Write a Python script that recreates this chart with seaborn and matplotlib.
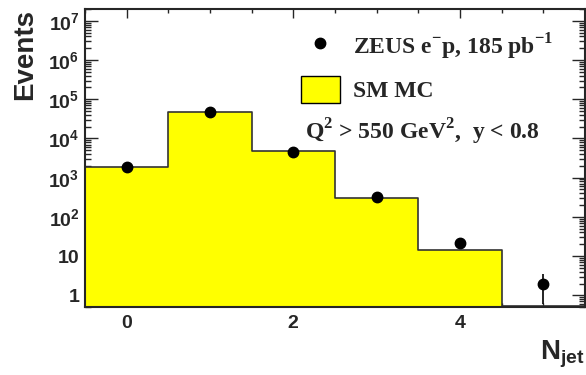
import numpy as np
import matplotlib
matplotlib.use('Agg')
import matplotlib.pyplot as plt
import seaborn as sns
from matplotlib.ticker import MultipleLocator, LogLocator, FuncFormatter, NullFormatter
from matplotlib.lines import Line2D
from matplotlib.patches import Patch

# Données
njet = [0, 1, 2, 3, 4, 5]
bin_edges = [-0.5, 0.5, 1.5, 2.5, 3.5, 4.5, 5.5]
mc_events = [1850, 46000, 4900, 310, 14, 0.54]
data_events = [1900, 47000, 4600, 320, 22, 2]
data_err = [44, 217, 68, 18, 4.7, 1.41]
y_decades = [1, 10, 1e2, 1e3, 1e4, 1e5, 1e6, 1e7]

sns.set_style('ticks')
plt.rcParams['font.family'] = ['Liberation Sans', 'DejaVu Sans']
plt.rcParams['font.weight'] = 'bold'
plt.rcParams['mathtext.fontset'] = 'custom'
plt.rcParams['mathtext.bf'] = 'Liberation Serif:bold'
plt.rcParams['mathtext.rm'] = 'Liberation Serif:bold'
plt.rcParams['mathtext.sf'] = 'Liberation Sans:bold'

fig = plt.figure(figsize=(5.86, 3.75), dpi=100)
ax = fig.add_axes([0.145, 0.181, 0.853, 0.795])

# Histogramme MC
sns.histplot(x=njet, weights=mc_events, bins=bin_edges, element='step', fill=True,
             color='#ffff00', edgecolor='#333333', linewidth=1.2, alpha=1, ax=ax)

# Points de données
ax.errorbar(njet, data_events, yerr=data_err, fmt='o', color='black', ms=7.5,
            elinewidth=1.2, capsize=0, zorder=5)

ax.set_yscale('log')
ax.set_xlim(-0.5, 5.5)
ax.set_ylim(0.5, 2e7)

# Axes style ROOT
ax.set_xticks([0, 2, 4])
ax.xaxis.set_minor_locator(MultipleLocator(0.5))
ax.set_yticks(y_decades)
ax.yaxis.set_minor_locator(LogLocator(base=10, subs=np.arange(2, 10), numticks=20))
ax.yaxis.set_minor_formatter(NullFormatter())


def fmt_y(v, pos):
    e = int(round(np.log10(v)))
    if e == 0:
        return '1'
    if e == 1:
        return '10'
    return r'$\mathsf{10^{%d}}$' % e


ax.yaxis.set_major_formatter(FuncFormatter(fmt_y))
ax.tick_params(which='both', direction='in', top=True, right=True, width=1, labelsize=14)
ax.tick_params(axis='x', which='major', length=6.5, pad=6)
ax.tick_params(axis='x', which='minor', length=3)
ax.tick_params(axis='y', which='major', length=9.5, pad=4)
ax.tick_params(axis='y', which='minor', length=4.5)
for s in ax.spines.values():
    s.set_linewidth(1.5)

ax.set_ylabel('Events', fontsize=20, fontweight='bold', loc='top')
ax.yaxis.set_label_coords(-0.094, 1.0)
ax.set_xlabel(r'$\mathsf{N_{jet}}$', fontsize=20, loc='right')
ax.xaxis.set_label_coords(1.0, -0.105)

# Légende
serif_bold = {'family': 'Liberation Serif', 'weight': 'bold', 'size': 17}
handles = [Line2D([], [], marker='o', color='black', linestyle='none', markersize=7.5),
           Patch(facecolor='#ffff00', edgecolor='black', linewidth=1)]
labels = [r'ZEUS e$^{\mathbf{-}}$p, 185 pb$^{\mathbf{-1}}$', 'SM MC']
ax.legend(handles, labels, loc='upper left', bbox_to_anchor=(0.432, 0.925),
          frameon=False, prop=serif_bold, handlelength=1.65, handleheight=1.4,
          handletextpad=0.55, labelspacing=0.6, borderpad=0, borderaxespad=0)

ax.text(0.44, 0.562, r'Q$^{\mathbf{2}}$ > 550 GeV$^{\mathbf{2}}$,  y < 0.8',
        transform=ax.transAxes, fontdict=serif_bold, va='baseline', ha='left')

fig.savefig('out.png', dpi=100)
